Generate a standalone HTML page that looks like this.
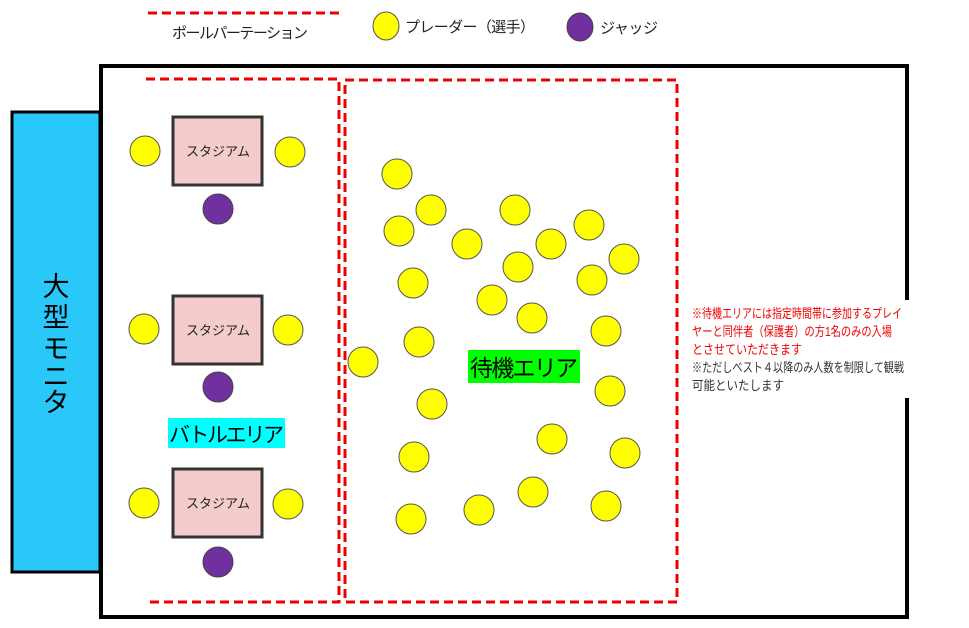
<!DOCTYPE html>
<html><head><meta charset="utf-8"><style>
body{margin:0;background:#fff;width:969px;height:623px;overflow:hidden;font-family:"Liberation Sans","Noto Sans CJK JP",sans-serif}
</style></head><body>
<svg width="969" height="623" xmlns="http://www.w3.org/2000/svg" font-family="Liberation Sans, Noto Sans CJK JP, sans-serif">
<line x1="148" y1="13" x2="340" y2="13" stroke="#e00" stroke-width="3" stroke-dasharray="9,5"/>
<text x="172" y="38" font-size="15" textLength="136" fill="#222">ポールパーテーション</text>
<ellipse cx="386" cy="26" rx="13" ry="14" fill="#ff0" stroke="#555"/>
<text x="405" y="32" font-size="15" textLength="130" fill="#222">プレーダー（選手）</text>
<ellipse cx="580" cy="27" rx="13" ry="14" fill="#7030a0" stroke="#444"/>
<text x="600" y="33" font-size="15" textLength="58" fill="#222">ジャッジ</text>
<rect x="101" y="66" width="806" height="551" fill="#fff" stroke="#000" stroke-width="4"/>
<rect x="12" y="112" width="88" height="460" fill="#29c8f8" stroke="#000" stroke-width="3"/>
<text font-size="27" fill="#000" text-anchor="middle"><tspan x="56" y="296">大</tspan><tspan x="56" y="327">型</tspan><tspan x="56" y="358">モ</tspan><tspan x="56" y="386">ニ</tspan><tspan x="56" y="412">タ</tspan></text>
<g fill="none" stroke="#e00" stroke-width="3" stroke-dasharray="9,5">
<polyline points="146,79 339,79 339,602 146,602"/>
<rect x="345" y="80" width="332" height="522"/>
</g>
<g fill="#f4cccc" stroke="#333" stroke-width="3">
<rect x="173" y="117" width="89" height="68"/><rect x="173" y="296" width="89" height="68"/><rect x="173" y="469" width="89" height="68"/>
</g>
<g font-size="13" text-anchor="middle" fill="#222"><text x="218" y="156">スタジアム</text><text x="218" y="335">スタジアム</text><text x="218" y="508">スタジアム</text></g>
<g fill="#ff0" stroke="#555">
<circle cx="145" cy="151" r="15"/><circle cx="290" cy="152" r="15"/><circle cx="144" cy="329" r="15"/><circle cx="288" cy="330" r="15"/><circle cx="144" cy="503" r="15"/><circle cx="288" cy="504" r="15"/>
<circle cx="397" cy="174" r="15"/><circle cx="431" cy="210" r="15"/><circle cx="515" cy="210" r="15"/><circle cx="399" cy="231" r="15"/><circle cx="467" cy="244" r="15"/><circle cx="551" cy="244" r="15"/><circle cx="589" cy="225" r="15"/><circle cx="624" cy="259" r="15"/><circle cx="518" cy="267" r="15"/><circle cx="592" cy="280" r="15"/><circle cx="413" cy="283" r="15"/><circle cx="492" cy="300" r="15"/><circle cx="532" cy="318" r="15"/><circle cx="606" cy="331" r="15"/><circle cx="419" cy="342" r="15"/><circle cx="363" cy="362" r="15"/><circle cx="610" cy="391" r="15"/><circle cx="432" cy="404" r="15"/><circle cx="552" cy="439" r="15"/><circle cx="625" cy="453" r="15"/><circle cx="414" cy="457" r="15"/><circle cx="533" cy="492" r="15"/><circle cx="479" cy="510" r="15"/><circle cx="606" cy="506" r="15"/><circle cx="411" cy="519" r="15"/>
</g>
<g fill="#7030a0" stroke="#444"><circle cx="218" cy="209" r="15"/><circle cx="218" cy="387" r="15"/><circle cx="218" cy="562" r="15"/></g>
<rect x="168" y="418" width="117" height="30" fill="#00ffff"/>
<text x="169" y="442" font-size="21" textLength="115" fill="#000">バトルエリア</text>
<rect x="468" y="350" width="112" height="33" fill="#00ff00"/>
<text x="470" y="376" font-size="23" textLength="108" fill="#000">待機エリア</text>
<rect x="690" y="300" width="222" height="98" fill="#fff"/>
<g font-size="13" lengthAdjust="spacingAndGlyphs"><text x="692" y="318" fill="#e00" textLength="210" lengthAdjust="spacingAndGlyphs">※待機エリアには指定時間帯に参加するプレイ</text>
<text x="692" y="336" fill="#e00" textLength="200" lengthAdjust="spacingAndGlyphs">ヤーと同伴者（保護者）の方1名のみの入場</text>
<text x="692" y="354" fill="#e00" textLength="110" lengthAdjust="spacingAndGlyphs">とさせていただきます</text>
<text x="692" y="372" fill="#333" textLength="212" lengthAdjust="spacingAndGlyphs">※ただしベスト４以降のみ人数を制限して観戦</text>
<text x="692" y="390" fill="#333" textLength="92" lengthAdjust="spacingAndGlyphs">可能といたします</text></g>
</svg>
</body></html>
